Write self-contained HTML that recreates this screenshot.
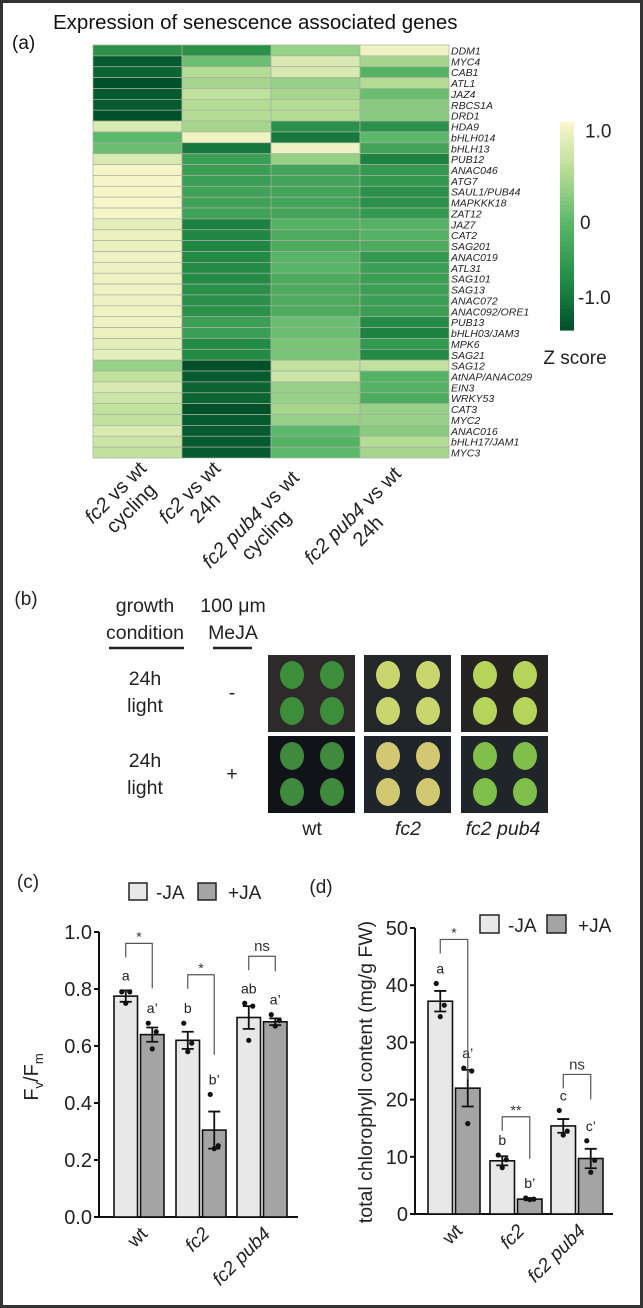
<!DOCTYPE html>
<html><head><meta charset="utf-8"><style>
html,body{margin:0;padding:0;background:#fff}
svg{display:block;font-family:"Liberation Sans",sans-serif}
</style></head><body>
<svg id="fig" width="643" height="1308" viewBox="0 0 643 1308">
<rect x="1.5" y="1.5" width="640" height="1305" fill="#fff" stroke="#333" stroke-width="3"/>
<text x="53" y="29" font-size="20.5" fill="#111">Expression of senescence associated genes</text>
<text x="12" y="49" font-size="19" fill="#111">(a)</text>
<g id="heat"></g>
<g id="cbar"></g>
<g id="panelb"></g>
<g id="chartc"></g>
<g id="chartd"></g>
</svg>
<script>
const NS="http://www.w3.org/2000/svg";
function mk(p,tag,attrs,txt){const e=document.createElementNS(NS,tag);for(const k in attrs)e.setAttribute(k,attrs[k]);if(txt!==undefined)e.textContent=txt;p.appendChild(e);return e;}

/* ---------- heatmap data ---------- */
const genes=["DDM1","MYC4","CAB1","ATL1","JAZ4","RBCS1A","DRD1","HDA9","bHLH014","bHLH13","PUB12","ANAC046","ATG7","SAUL1/PUB44","MAPKKK18","ZAT12","JAZ7","CAT2","SAG201","ANAC019","ATL31","SAG101","SAG13","ANAC072","ANAC092/ORE1","PUB13","bHLH03/JAM3","MPK6","SAG21","SAG12","AtNAP/ANAC029","EIN3","WRKY53","CAT3","MYC2","ANAC016","bHLH17/JAM1","MYC3"];
const zFc2Cycling=[-0.6,-1.2,-1.1,-1.3,-1.2,-1.2,-1.3,0.9,0.0,0.1,0.9,1.15,1.15,1.15,1.15,1.15,1.0,1.05,1.05,1.1,1.1,1.1,1.1,1.1,1.1,1.1,1.05,1.0,1.0,0.4,0.7,0.9,0.8,0.7,0.7,0.9,0.8,0.7];
const zFc2_24h=[-0.6,0.1,0.6,0.5,0.7,0.6,0.6,0.5,1.1,-0.9,-0.4,-0.4,-0.4,-0.35,-0.35,-0.35,-0.8,-0.75,-0.75,-0.7,-0.7,-0.7,-0.6,-0.6,-0.6,-0.4,-0.4,-0.7,-0.7,-1.3,-1.2,-1.1,-1.1,-1.3,-1.2,-1.2,-1.2,-1.2];
const zPub4Cycling=[0.4,0.9,0.9,0.4,0.5,0.6,0.6,-0.6,-0.9,1.1,0.4,-0.3,-0.3,-0.3,-0.3,-0.3,-0.1,-0.2,-0.2,-0.05,-0.05,-0.2,-0.2,-0.2,-0.2,0.1,0.1,0.2,0.2,0.7,0.8,0.4,0.4,0.5,0.4,0.0,-0.1,0.0];
const zPub4_24h=[1.1,0.5,-0.1,0.6,0.1,0.3,0.3,-0.6,0.0,-0.3,-0.8,-0.5,-0.5,-0.6,-0.6,-0.5,-0.1,-0.1,-0.2,-0.5,-0.4,-0.4,-0.4,-0.4,-0.4,-0.7,-0.8,-0.5,-0.7,0.7,-0.1,-0.1,-0.2,0.4,0.4,0.3,0.6,0.5];
const heatColumns=[["fc2 vs wt","cycling"],["fc2 vs wt","24h"],["fc2 pub4 vs wt","cycling"],["fc2 pub4 vs wt","24h"]];
const cbarTicks=[1.0,0,-1.0];
const cbarTickLabels=["1.0","0","-1.0"];

const stops=[[-1.3,[0,80,42]],[-0.7,[35,139,69]],[0,[92,184,106]],[0.6,[181,220,149]],[1.2,[251,247,204]]];
function zcol(z){z=Math.max(-1.3,Math.min(1.2,z));for(let i=0;i<stops.length-1;i++){const a=stops[i],b=stops[i+1];if(z<=b[0]){const t=(z-a[0])/(b[0]-a[0]);const c=a[1].map((v,j)=>Math.round(v+(b[1][j]-v)*t));return`rgb(${c})`;}}return"rgb(251,247,204)";}
const HX0=93,HY0=45,CW=89,RH=413/38;
const heat=document.getElementById('heat');
const cols=[zFc2Cycling,zFc2_24h,zPub4Cycling,zPub4_24h];
cols.forEach((arr,ci)=>{arr.forEach((z,ri)=>{
  const r=mk(heat,'rect',{x:HX0+ci*CW,y:HY0+ri*RH,width:CW,height:RH,fill:zcol(z),stroke:'#a8b0a0','stroke-width':0.7});
  
  
});});
genes.forEach((g,ri)=>{
  const t=mk(heat,'text',{x:451,y:HY0+ri*RH+RH/2+4,'font-size':10.5,'font-style':'italic',fill:'#222'},g);
  
  
});
heatColumns.forEach((lines,ci)=>{
  const cx=[123,197,258,360][ci],cy=[500,500,527,523][ci];
  const g=mk(heat,'g',{transform:`translate(${cx},${cy}) rotate(-45)`});
  
  
  lines.forEach((ln,li)=>{
    const t=mk(g,'text',{x:0,y:(li-0.5)*22+7,'font-size':20,'text-anchor':'middle',fill:'#222'});
    if(ln.includes('vs')){const parts=ln.split(' vs ');mk(t,'tspan',{'font-style':'italic'},parts[0]);mk(t,'tspan',{},' vs '+parts[1]);}else t.textContent=ln;
  });
});
/* colorbar */
const cb=document.getElementById('cbar');
const CBX=560,CBW=14,CBT=122,CBB=330,zTop=1.2,zBot=-1.3;
const cy=z=>CBT+(zTop-z)/(zTop-zBot)*(CBB-CBT);
for(let i=0;i<50;i++){const z1=zTop-(zTop-zBot)*i/50;mk(cb,'rect',{x:CBX,y:cy(z1),width:CBW,height:(CBB-CBT)/50+0.6,fill:zcol(z1-0.025)});}
cbarTicks.forEach((v,i)=>{
  const t=mk(cb,'text',{x:i==1?580:(i==2?578:585),y:cy(v)+(i==0?-8:(i==2?-8:0))+7,'font-size':19,fill:'#222'},cbarTickLabels[i]);
  
  
});
const zs=mk(cb,'text',{x:575,y:364,'font-size':19,'text-anchor':'middle',fill:'#222'},'Z score');



/* ---------- panel b ---------- */
const pb=document.getElementById('panelb');
const T=(p,x,y,s,txt,o={})=>mk(p,'text',Object.assign({x,y,'font-size':s,fill:'#222','text-anchor':'middle'},o),txt);
T(pb,26,605,19,'(b)');
T(pb,145,612,19.5,'growth');T(pb,145,639,19.5,'condition');
T(pb,233,612,19.5,'100 μm');T(pb,233,639,19.5,'MeJA');
mk(pb,'line',{x1:109,y1:648,x2:184,y2:648,stroke:'#222','stroke-width':2.5});
mk(pb,'line',{x1:213,y1:648,x2:252,y2:648,stroke:'#222','stroke-width':2.5});
T(pb,145,685,19.5,'24h');T(pb,145,712,19.5,'light');T(pb,232,699,19.5,'-');
T(pb,145,767,19.5,'24h');T(pb,145,794,19.5,'light');T(pb,232,780,19.5,'+');
const photos=[[268,655,'#2c2a2a','#3d8e3a'],[364,655,'#23272a','#c9d66e'],[461,655,'#252423','#b7d45a'],[268,736,'#101418','#3f8a3c'],[364,736,'#1f252a','#d3c872'],[461,736,'#1f2529','#7fbf4a']];
photos.forEach(([x,y,bg,lf],i)=>{
  const g=mk(pb,'g',{});
  
  
  mk(g,'rect',{x,y,width:87,height:77,fill:bg});
  [[22,18],[62,18],[22,54],[62,54]].forEach(([dx,dy])=>mk(g,'ellipse',{cx:x+dx+2,cy:y+dy+2,rx:12,ry:14,fill:lf}));
});
T(pb,312,835,19.5,'wt');T(pb,408,835,19.5,'fc2',{'font-style':'italic'});T(pb,503,835,19.5,'fc2 pub4',{'font-style':'italic'});

/* ---------- chart c ---------- */
const genotypes=["wt","fc2","fc2 pub4"];
const fvfmMinusJA=[0.775,0.62,0.70];
const fvfmPlusJA=[0.64,0.305,0.685];
const fvfmErrMinus=[0.02,0.03,0.04];
const fvfmErrPlus=[0.025,0.065,0.012];
const fvfmDotsMinus=[[0.79,0.79,0.75],[0.68,0.61,0.58],[0.75,0.74,0.62]];
const fvfmDotsPlus=[[0.68,0.65,0.59],[0.43,0.25,0.24],[0.71,0.69,0.67]];
const fvfmLettersMinus=["a","b","ab"];
const fvfmLettersPlus=["a’","b’","a’"];
const fvfmSig=["*","*","ns"];
const fvfmSigLevel=[0.96,0.85,0.915];
const fvfmTicks=[0,0.2,0.4,0.6,0.8,1.0];
const fvfmTickLabels=["0.0","0.2","0.4","0.6","0.8","1.0"];

const chlMinusJA=[37.2,9.3,15.4];
const chlPlusJA=[22.0,2.6,9.7];
const chlErrMinus=[1.8,0.8,1.2];
const chlErrPlus=[3.2,0.2,1.7];
const chlDotsMinus=[[40.3,36.5,34.5],[10.3,9.5,8.1],[18.1,14.5,13.8]];
const chlDotsPlus=[[25.5,25,15.8],[2.8,2.6,2.5],[12.8,9.4,7.3]];
const chlLettersMinus=["a","b","c"];
const chlLettersPlus=["a’","b’","c’"];
const chlSig=["*","**","ns"];
const chlSigLevel=[48,17,24.4];
const chlTicks=[0,10,20,30,40,50];
const chlTickLabels=["0","10","20","30","40","50"];

function barChart(root,o){
  const y=v=>o.y0-(v-o.vmin)/(o.vmax-o.vmin)*(o.y0-o.y1);
  const ax=mk(root,'path',{d:`M${o.ax},${o.y1} V${o.y0} H${o.axEnd}`,fill:'none',stroke:'#111','stroke-width':2});
  
  
  o.ticks.forEach((v,i)=>{
    mk(root,'line',{x1:o.ax-5,x2:o.ax,y1:y(v),y2:y(v),stroke:'#111','stroke-width':2});
    const t=mk(root,'text',{x:o.ax-7,y:y(v)+7,'font-size':20,'text-anchor':'end',fill:'#222'},o.tickLabels[i]);
    
    
  });
  o.groups.forEach((g,gi)=>{
    const x0=o.gx[gi];
    [[o.minus,o.errM,o.dotsM,o.letM,'#e8e8e8',0],[o.plus,o.errP,o.dotsP,o.letP,'#a4a4a4',o.bw+3]].forEach(([vals,errs,dots,lets,fill,dx],si)=>{
      const bx=x0+dx,cx=bx+o.bw/2,v=vals[gi];
      const r=mk(root,'rect',{x:bx,y:y(v),width:o.bw,height:y(o.vmin)-y(v),fill,stroke:'#111','stroke-width':1.6});
      
      
      const e=errs[gi];
      mk(root,'path',{d:`M${cx},${y(v-e)}V${y(v+e)}M${cx-6},${y(v+e)}H${cx+6}M${cx-6},${y(v-e)}H${cx+6}`,stroke:'#111','stroke-width':1.8,fill:'none'});
      dots[gi].forEach((d,di)=>mk(root,'circle',{cx:cx+[-4,4,0][di],cy:y(d),r:2.6,fill:'#111'}));
      const top=Math.max(v+e,...dots[gi]);
      const lt=mk(root,'text',{x:cx,y:y(top)-o.letGap,'font-size':14,'text-anchor':'middle',fill:'#222'},lets[gi]);
      
      
    });
    const c1=x0+o.bw/2,c2=x0+o.bw*1.5+3,sy=y(o.sigLevel[gi]);
    mk(root,'path',{d:`M${c1},${sy+14}V${sy}H${c2}V${sy+o.sigDrop[gi]}`,fill:'none',stroke:'#555','stroke-width':1.2});
    const st=mk(root,'text',{x:(c1+c2)/2,y:sy-(o.sig[gi]=='ns'?5:-3)-(o.sig[gi]=='ns'?0:5),'font-size':o.sig[gi]=='ns'?15:14,'text-anchor':'middle',fill:'#333'},o.sig[gi]);
    
    
    const lx=x0+o.bw+1,ly=o.y0+12;
    const xt=mk(root,'text',{x:0,y:0,'font-size':19,'text-anchor':'end',fill:'#222','font-style':gi==0?'normal':'italic',transform:`translate(${lx+10},${ly+6}) rotate(-45)`},g);
    
    
  });
}
const cc=document.getElementById('chartc');
T(cc,28,888,19,'(c)');
[[129,'#e8e8e8','-JA',156],[198,'#a4a4a4','+JA',228]].forEach(([x,f,l,tx])=>{
  const r=mk(cc,'rect',{x,y:883,width:18,height:17,fill:f,stroke:'#222','stroke-width':1.5});
  
  const t=mk(cc,'text',{x:tx,y:899,'font-size':19,fill:'#222'},l);
  
});
const fl=mk(cc,'text',{transform:'translate(38,1077) rotate(-90)','font-size':20,'text-anchor':'middle',fill:'#222'});
mk(fl,'tspan',{},'F');mk(fl,'tspan',{'font-size':13,dy:5},'v');mk(fl,'tspan',{dy:-5},'/F');mk(fl,'tspan',{'font-size':13,dy:5},'m');

barChart(cc,{ax:99,axEnd:298,y0:1217,y1:932,vmin:0,vmax:1,ticks:fvfmTicks,tickLabels:fvfmTickLabels,groups:genotypes,gx:[114,176,237],bw:23.5,
  minus:fvfmMinusJA,plus:fvfmPlusJA,errM:fvfmErrMinus,errP:fvfmErrPlus,dotsM:fvfmDotsMinus,dotsP:fvfmDotsPlus,letM:fvfmLettersMinus,letP:fvfmLettersPlus,
  sig:fvfmSig,sigLevel:fvfmSigLevel,sigDrop:[45,80,15],letGap:10});

const cd=document.getElementById('chartd');
T(cd,321,893,19,'(d)');
[[480,'#e8e8e8','-JA',508],[547,'#a4a4a4','+JA',578]].forEach(([x,f,l,tx])=>{
  const r=mk(cd,'rect',{x,y:915,width:19,height:18,fill:f,stroke:'#222','stroke-width':1.5});
  
  const t=mk(cd,'text',{x:tx,y:932,'font-size':19,fill:'#222'},l);
  
});
const dl=mk(cd,'text',{transform:'translate(372,1072) rotate(-90)','font-size':19.5,'text-anchor':'middle',fill:'#222'},'total chlorophyll content (mg/g FW)');

barChart(cd,{ax:415,axEnd:613,y0:1214,y1:928,vmin:0,vmax:50,ticks:chlTicks,tickLabels:chlTickLabels,groups:genotypes,gx:[428,490,551],bw:24.5,
  minus:chlMinusJA,plus:chlPlusJA,errM:chlErrMinus,errP:chlErrPlus,dotsM:chlDotsMinus,dotsP:chlDotsPlus,letM:chlLettersMinus,letP:chlLettersPlus,
  sig:chlSig,sigLevel:chlSigLevel,sigDrop:[140,42,25],letGap:10});
</script>
</body></html>
